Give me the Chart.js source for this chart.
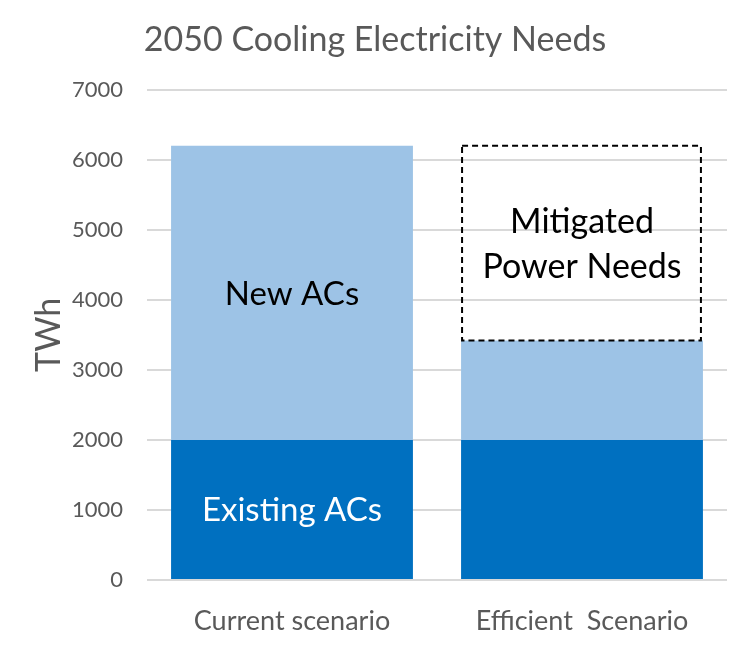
<!DOCTYPE html>
<html>
<head>
<meta charset="utf-8">
<script src="https://cdn.jsdelivr.net/npm/chart.js@4.4.0/dist/chart.umd.min.js"></script>
<style>
  html, body { margin: 0; padding: 0; background: #fff; }
  #wrap { width: 750px; height: 649px; }
</style>
</head>
<body>
<div id="wrap"><canvas id="grafico" width="750" height="649"></canvas></div>
<script>
const categorias = ['Current scenario', 'Efficient  Scenario'];
const existentes = [2000, 2000];
const novos = [4200, 1420];
const mitigado = [null, 2780];
const ticksY = [0, 1000, 2000, 3000, 4000, 5000, 6000, 7000];
const rotulos = {
    existentes: ['Existing ACs', null],
    novos: ['New ACs', null],
    mitigado: [null, ['Mitigated', 'Power Needs']]
};

const fonte = 'Lato, "Open Sans", sans-serif';
const cinza = '#595959';

// rotulos dentro das barras + caixa tracejada
const pluginRotulos = {
    id: 'rotulos',
    afterDatasetsDraw(chart) {
        const ctx = chart.ctx;
        const chaves = ['existentes', 'novos', 'mitigado'];
        const cores = ['#ffffff', '#000000', '#000000'];
        const tamanhos = [33, 33, 34];
        chart.data.datasets.forEach((ds, i) => {
            const meta = chart.getDatasetMeta(i);
            meta.data.forEach((bar, j) => {
                if (ds.data[j] == null) return;
                const p = bar.getProps(['x', 'y', 'base', 'width'], true);
                if (i === 2) {
                    ctx.save();
                    ctx.setLineDash([6, 4]);
                    ctx.strokeStyle = '#000';
                    ctx.lineWidth = 2;
                    ctx.strokeRect(p.x - p.width / 2 + 1, p.y, p.width - 3, p.base - p.y);
                    ctx.restore();
                }
                let txt = rotulos[chaves[i]][j];
                if (!txt) return;
                if (!Array.isArray(txt)) txt = [txt];
                ctx.save();
                ctx.fillStyle = cores[i];
                ctx.font = tamanhos[i] + 'px ' + fonte;
                ctx.textAlign = 'center';
                ctx.textBaseline = 'middle';
                const meio = (p.y + p.base) / 2 + 1;
                const lh = 45;
                txt.forEach((t, k) => {
                    ctx.fillText(t, p.x, meio + (k - (txt.length - 1) / 2) * lh);
                });
                ctx.restore();
            });
        });
    }
};

const ctx = document.getElementById('grafico').getContext('2d');
new Chart(ctx, {
    type: 'bar',
    data: {
        labels: categorias,
        datasets: [
            { label: 'Existing ACs', data: existentes, backgroundColor: '#0070C0' },
            { label: 'New ACs', data: novos, backgroundColor: '#9DC3E6' },
            { label: 'Mitigated', data: mitigado, backgroundColor: 'rgba(255,255,255,0)' }
        ]
    },
    options: {
        responsive: false,
        animation: false,
        layout: { padding: 0 },
        datasets: { bar: { barPercentage: 0.834, categoryPercentage: 1, borderWidth: 0 } },
        plugins: {
            legend: { display: false },
            tooltip: { enabled: false },
            title: {
                display: true,
                text: '2050 Cooling Electricity Needs',
                color: cinza,
                font: { family: fonte, size: 34, weight: 'normal' },
                padding: { top: 20, bottom: 29 }
            }
        },
        scales: {
            x: {
                stacked: true,
                grid: { display: false, drawTicks: false },
                border: { display: false },
                ticks: { color: cinza, font: { family: fonte, size: 27 }, padding: 25 },
                afterFit(scale) { scale.height = 69; }
            },
            y: {
                stacked: true,
                min: 0,
                max: 7000,
                afterBuildTicks(scale) { scale.ticks = ticksY.map(v => ({ value: v })); },
                grid: { color: '#D9D9D9', lineWidth: 2, drawTicks: false },
                border: { display: false },
                ticks: {
                    color: cinza,
                    font: { family: fonte, size: 22 },
                    padding: 24,
                    callback: v => String(v)
                },
                title: {
                    display: true,
                    text: 'TWh',
                    color: cinza,
                    font: { family: fonte, size: 34 },
                    padding: { top: 29, bottom: 0 }
                },
                afterFit(scale) { scale.width = 147; }
            },
            // eixo vazio so para a margem direita
            margem: {
                position: 'right',
                min: 0,
                max: 7000,
                grid: { display: false, drawTicks: false },
                border: { display: false },
                ticks: { display: false },
                afterFit(scale) { scale.width = 23; }
            }
        }
    },
    plugins: [pluginRotulos]
});
</script>
</body>
</html>
